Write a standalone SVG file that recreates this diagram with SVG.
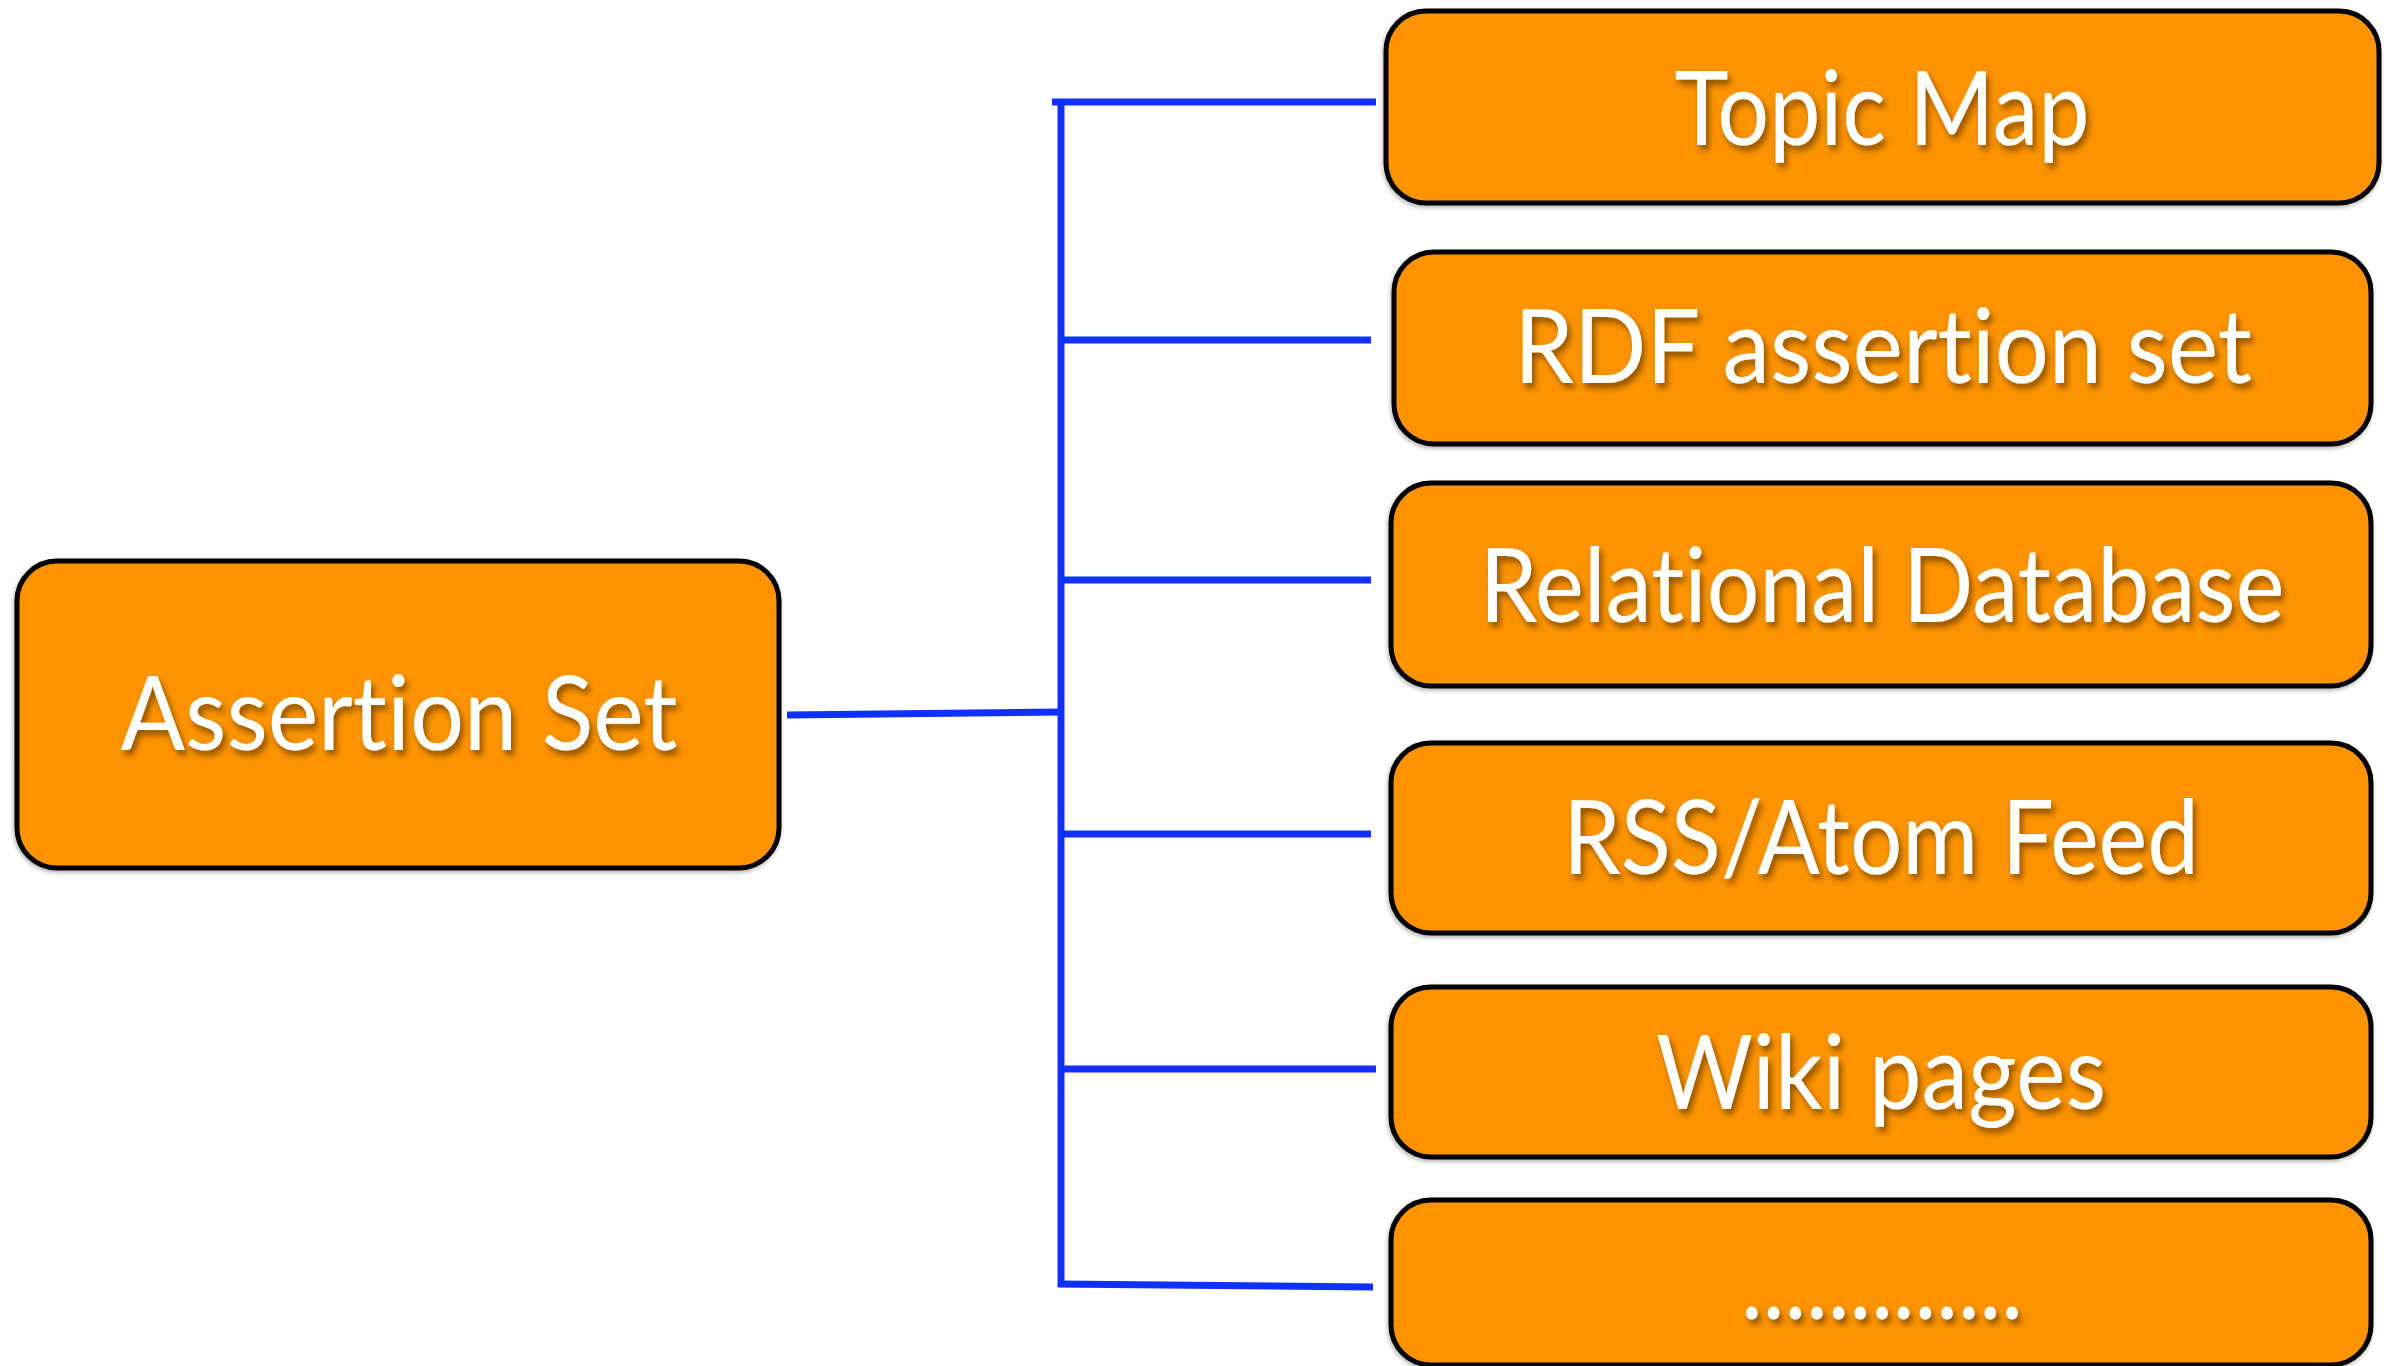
<svg xmlns="http://www.w3.org/2000/svg" width="2391" height="1366" viewBox="0 0 2391 1366">
<defs>
<filter id="ts" x="-10%" y="-30%" width="120%" height="160%">
<feDropShadow dx="3" dy="5" stdDeviation="3" flood-color="#000" flood-opacity="0.45"/>
</filter>
<filter id="bs" x="-5%" y="-10%" width="110%" height="120%">
<feDropShadow dx="-1" dy="2" stdDeviation="2" flood-color="#000" flood-opacity="0.3"/>
</filter>
</defs>
<style>
.box{fill:#FD9300;stroke:#000;stroke-width:5;filter:url(#bs)}
.lbl{font-family:Lato,"Open Sans","Liberation Sans",sans-serif;font-size:102px;fill:#fff;text-anchor:middle;filter:url(#ts);font-variant-ligatures:none;font-feature-settings:"liga" 0,"clig" 0}
.con{stroke:#0F30FF;stroke-width:7;fill:none}
</style>
<g id="connectors">
<line class="con" x1="787" y1="715" x2="1061" y2="712"/>
<line class="con" x1="1061" y1="99" x2="1061" y2="1287"/>
<line class="con" x1="1052" y1="102" x2="1376" y2="102"/>
<line class="con" x1="1061" y1="340" x2="1371" y2="340"/>
<line class="con" x1="1061" y1="580" x2="1371" y2="580"/>
<line class="con" x1="1061" y1="834" x2="1371" y2="834"/>
<line class="con" x1="1061" y1="1069" x2="1376" y2="1069"/>
<line class="con" x1="1058" y1="1284" x2="1373" y2="1287"/>
</g>
<g id="assertion-set">
<rect class="box" x="17" y="561" width="762" height="307" rx="40"/>
<text class="lbl" x="399" y="750" textLength="557" lengthAdjust="spacingAndGlyphs">Assertion Set</text>
</g>
<g id="topic-map">
<rect class="box" x="1386" y="11" width="993" height="192" rx="40"/>
<text class="lbl" x="1882" y="145" textLength="415" lengthAdjust="spacingAndGlyphs">Topic Map</text>
</g>
<g id="rdf-assertion-set">
<rect class="box" x="1394" y="252" width="977" height="192" rx="40"/>
<text class="lbl" x="1883" y="383" textLength="738" lengthAdjust="spacingAndGlyphs">RDF assertion set</text>
</g>
<g id="relational-database">
<rect class="box" x="1391" y="483" width="980" height="203" rx="40"/>
<text class="lbl" x="1882" y="622" textLength="805" lengthAdjust="spacingAndGlyphs">Relational Database</text>
</g>
<g id="rss-atom-feed">
<rect class="box" x="1391" y="743" width="980" height="190" rx="40"/>
<text class="lbl" x="1881" y="874" textLength="636" lengthAdjust="spacingAndGlyphs">RSS/Atom Feed</text>
</g>
<g id="wiki-pages">
<rect class="box" x="1391" y="987" width="980" height="170" rx="40"/>
<text class="lbl" x="1881" y="1109" textLength="450" lengthAdjust="spacingAndGlyphs">Wiki pages</text>
</g>
<g id="more">
<rect class="box" x="1391" y="1200" width="980" height="165" rx="40"/>
<text class="lbl" x="1882" y="1319" textLength="282" lengthAdjust="spacingAndGlyphs">.............</text>
</g>
</svg>
